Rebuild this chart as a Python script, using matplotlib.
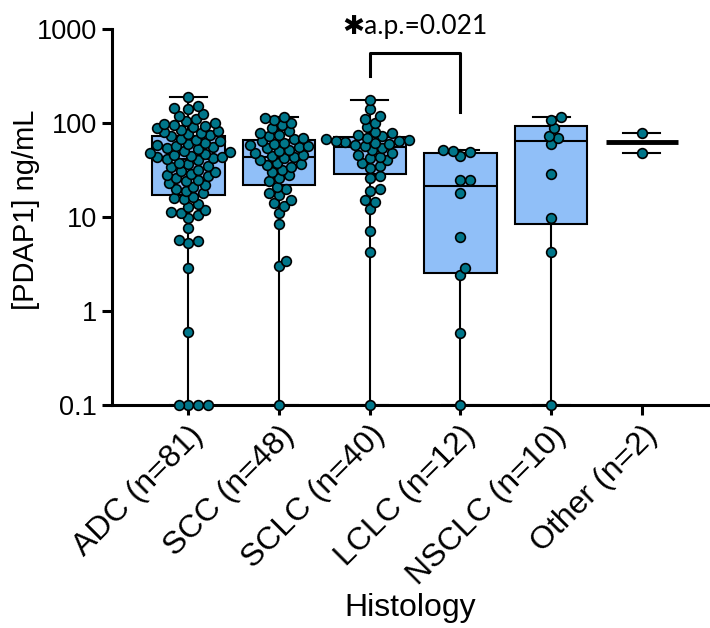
import numpy as np
import matplotlib
matplotlib.use("Agg")
import matplotlib.pyplot as plt

# PDAP1 serum levels (ng/mL) by histology
groups = ["ADC (n=81)", "SCC (n=48)", "SCLC (n=40)", "LCLC (n=12)", "NSCLC (n=10)", "Other (n=2)"]

adc = [0.1, 0.1, 0.1, 0.1, 0.6, 2.9, 5.3, 5.5, 5.7, 7.6, 9.8, 10.5, 11, 11.2, 11.8, 12.9, 13.6, 15.5, 16, 16.5,
       18, 19, 20, 21, 22, 23, 24, 25, 26, 27, 28, 29, 30, 31, 32, 34, 35, 37, 38, 40,
       41, 42, 43, 44, 45, 46, 47, 48, 49, 50, 53, 54, 55, 57, 58, 60, 62, 64, 66, 68,
       72, 74, 76, 78, 80, 82, 85, 88, 90, 92, 95, 98, 100, 105, 110, 120, 125, 140, 145, 150, 190]
scc = [0.1, 3.0, 3.4, 8.4, 11, 13, 14, 15, 17, 18, 20, 21,
       24, 26, 28, 30, 32, 34, 36, 37, 38, 40, 42, 43,
       45, 46, 48, 50, 52, 54, 55, 57, 58, 60, 62, 64,
       67, 70, 72, 75, 78, 82, 88, 96, 100, 108, 112, 117]
sclc = [0.1, 4.2, 7.1, 12.2, 14.6, 15, 19, 20, 26, 27,
        33, 35, 38, 40, 42, 44, 46, 48, 51, 54,
        57, 58, 60, 62, 63, 64, 65, 66, 68, 70,
        72, 75, 78, 80, 90, 100, 110, 120, 140, 176]
lclc = [0.1, 0.58, 2.4, 2.9, 6.2, 18, 25, 25, 45, 49, 50, 52]
nsclc = [0.1, 4.2, 9.8, 29, 60, 70, 73, 88, 108, 117]
other = [48, 79]
values = [adc, scc, sclc, lclc, nsclc, other]

box_color = "#90BFF8"
dot_color = "#00768A"

plt.rcParams["font.family"] = ["Liberation Sans", "DejaVu Sans"]

fig = plt.figure(figsize=(7.1, 6.28), dpi=100)
ax = fig.add_axes([112 / 710, 1 - 405 / 628, 596 / 710, 376 / 628])
ax.set_yscale("log")
ax.set_ylim(0.1, 1000)
ax.set_xlim(-0.843, 5.73)

# min-to-max whiskers, quartiles the (n+1)p way
stats = []
for v in values:
    q1, med, q3 = np.percentile(v, [25, 50, 75], method="weibull")
    stats.append(dict(med=med, q1=q1, q3=q3, whislo=min(v), whishi=max(v), fliers=[]))

lw = 1.5
common = dict(widths=0.8, capwidths=0.41, showfliers=False, patch_artist=True,
              whiskerprops=dict(color="black", lw=lw), capprops=dict(color="black", lw=lw))
ax.bxp(stats[:5], positions=range(5),
       boxprops=dict(facecolor=box_color, edgecolor="black", lw=lw),
       medianprops=dict(color="black", lw=lw), **common)
# only two values: no box, just the median bar
ax.bxp(stats[5:], positions=[5], showbox=False,
       medianprops=dict(color="black", lw=3.5), **common)


def swarm(vals, xpos, diam):
    # spread points sideways in pixel space so the markers barely touch
    pts = ax.transData.transform(np.column_stack([np.full(len(vals), xpos), vals]))
    ys = pts[:, 1]
    ppu = ax.transData.transform((1, 1))[0] - ax.transData.transform((0, 1))[0]
    step = diam / 4
    placed = []
    xs = np.zeros(len(vals))
    for k in np.argsort(ys):
        for j in range(400):
            off = step * ((j + 1) // 2) * (1 if j % 2 else -1)
            if all((off - px) ** 2 + (ys[k] - py) ** 2 >= (0.85 * diam) ** 2 for px, py in placed):
                break
        placed.append((off, ys[k]))
        xs[k] = xpos + off / ppu
    return xs


dot_pt = 7
for i, v in enumerate(values):
    xs = swarm(v, i, dot_pt * fig.dpi / 72)
    ax.scatter(xs, v, s=dot_pt ** 2, c=dot_color, edgecolors="black", linewidths=1.2,
               zorder=4, clip_on=False)

# significance bracket SCLC vs LCLC
ax.plot([2, 2, 3, 3], [316, 556, 556, 131], color="black", lw=2.2, clip_on=False)
ax.text(2.5, 10 ** 3.03, "\u2731a.p.=0.021", ha="center", va="center", fontsize=19,
        family=["Lato", "DejaVu Sans"], clip_on=False)

for s in ["top", "right"]:
    ax.spines[s].set_visible(False)
for s in ["left", "bottom"]:
    ax.spines[s].set_linewidth(2.2)

ax.set_yticks([0.1, 1, 10, 100, 1000])
ax.set_yticklabels(["0.1", "1", "10", "100", "1000"])
ax.minorticks_off()
ax.set_xticks(range(len(groups)))
ax.set_xticklabels(groups, rotation=45, ha="right", rotation_mode="anchor")
ax.tick_params(width=2.2, length=7, pad=4)
ax.tick_params(axis="y", labelsize=19.5)
ax.tick_params(axis="x", labelsize=23)

ax.set_ylabel("[PDAP1] ng/mL", fontsize=21)
ax.yaxis.set_label_coords(-0.121, 0.519)
ax.set_xlabel("Histology", fontsize=23)
ax.xaxis.set_label_coords(0.5, -0.5)

fig.savefig("out.png", dpi=100)
